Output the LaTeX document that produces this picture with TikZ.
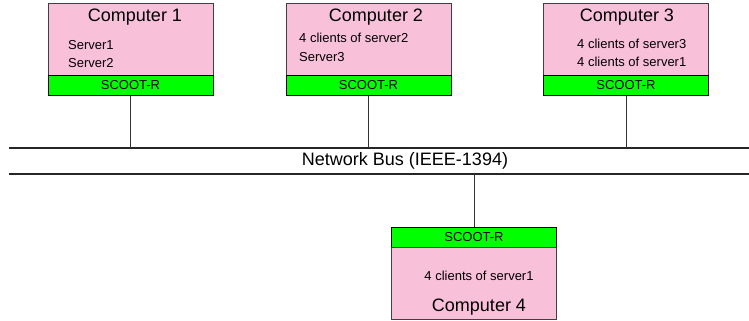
\documentclass[tikz,border=0pt]{standalone}
\usepackage{fontspec}
\setmainfont{Liberation Sans}
\usepackage{tikz}
\usetikzlibrary{positioning}
\usepackage{xcolor}
\definecolor{pcpink}{RGB}{249,192,218}
\definecolor{scootgreen}{RGB}{0,255,0}
\definecolor{edgegray}{RGB}{64,64,64}

\begin{document}
\begin{tikzpicture}[x=1pt, y=-1pt, font=\fontsize{13}{15}\selectfont]
\tikzset{
  pcbox/.style={rectangle, draw=edgegray, fill=pcpink, minimum width=165pt, minimum height=72pt, inner sep=0pt},
  scoot/.style={rectangle, draw=black, fill=scootgreen, minimum width=165pt, minimum height=20pt, inner sep=0pt},
  title/.style={inner sep=0pt, font=\fontsize{18}{21}\selectfont},
  item/.style={anchor=west, inner sep=0pt},
  link/.style={draw=black!80, line width=0.8pt},
  busline/.style={draw=black!85, line width=1.2pt},
}
\useasboundingbox (0,0) rectangle (749,321);
% computers on top
\node[pcbox] (pc1) at (130.5,39) {};
\node[scoot, below=0pt of pc1] (scoot1) {SCOOT-R};
\node[pcbox] (pc2) at (368.5,39) {};
\node[scoot, below=0pt of pc2] (scoot2) {SCOOT-R};
\node[pcbox] (pc3) at (626,39) {};
\node[scoot, below=0pt of pc3] (scoot3) {SCOOT-R};
% computer below the bus
\node[scoot] (scoot4) at (474,237) {SCOOT-R};
\node[pcbox, below=0pt of scoot4] (pc4) {};
% texts
\node[title] (t1) at (135,17) {Computer 1};
\node[item] (s1a) at (68,45) {Server1};
\node[item] (s1b) at (68,63) {Server2};
\node[title] (t2) at (376,17) {Computer 2};
\node[item] (s2a) at (299,38) {4 clients of server2};
\node[item] (s2b) at (299,57) {Server3};
\node[title] (t3) at (627,17) {Computer 3};
\node[item] (s3a) at (577,44) {4 clients of server3};
\node[item] (s3b) at (577,62) {4 clients of server1};
\node[inner sep=0pt] (s4a) at (479,276) {4 clients of server1};
\node[title] (t4) at (479,307) {Computer 4};
% bus
\coordinate (busTL) at (9,148);
\coordinate (busTR) at (749,148);
\coordinate (busBL) at (9,174);
\coordinate (busBR) at (749,174);
\draw[busline] (busTL) -- (busTR);
\draw[busline] (busBL) -- (busBR);
\node[title] (bus) at (405,161) {Network Bus (IEEE-1394)};
\draw[link] (scoot1) -- (scoot1 |- busTL);
\draw[link] (scoot2) -- (scoot2 |- busTL);
\draw[link] (scoot3) -- (scoot3 |- busTL);
\draw[link] (scoot4) -- (scoot4 |- busBL);
\end{tikzpicture}
\end{document}
